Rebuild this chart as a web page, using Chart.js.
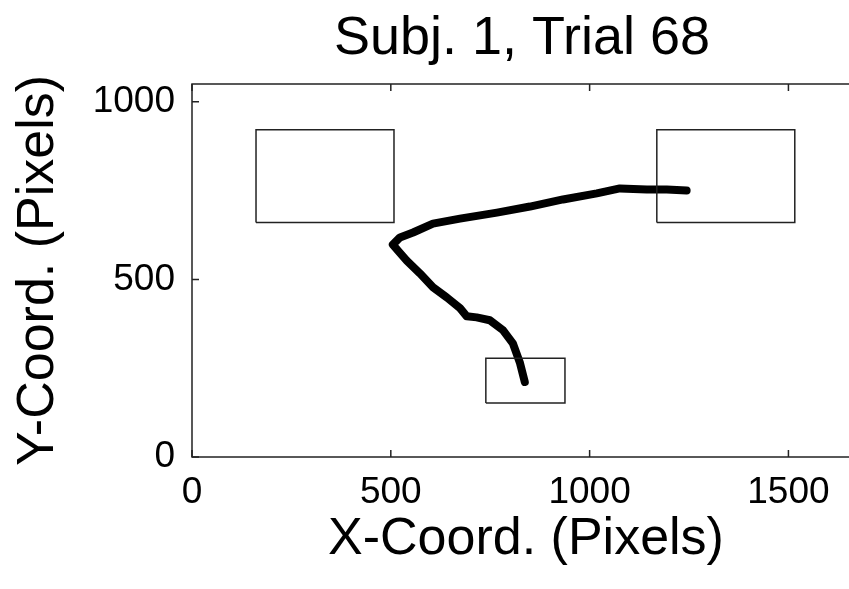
<!DOCTYPE html>
<html>
<head>
<meta charset="utf-8">
<title>Subj. 1, Trial 68</title>
<script src="https://cdn.jsdelivr.net/npm/chart.js@4/dist/chart.umd.min.js"></script>
<style>
    html, body { margin: 0; padding: 0; background: white; overflow: hidden; }
    canvas { display: block; }
</style>
</head>
<body>
<canvas id="myChart" width="870" height="589"></canvas>
<script>
// mouse trajectory (screen pixels), from start box to target
const trajX = [837, 825, 807, 782, 749, 716, 691, 674, 641, 606, 573, 540, 518, 505,
    523, 556, 606, 674, 767, 850, 933, 1018, 1076, 1144, 1194, 1244];
const trajY = [211, 264, 320, 357, 385, 393, 396, 419, 449, 478, 517, 553, 581, 598,
    618, 632, 657, 671, 688, 705, 725, 742, 756, 753, 753, 750];

// boxes on screen: [x0, x1], [y0, y1]
const leftBoxX = [161, 508];
const leftBoxY = [660, 921];
const rightBoxX = [1169, 1516];
const rightBoxY = [660, 921];
const startBoxX = [739, 938];
const startBoxY = [152, 278];

const screenW = 1680;
const screenH = 1050;
const xTicks = [0, 500, 1000, 1500];
const yTicks = [0, 500, 1000];

const titleText = 'Subj. 1, Trial 68';
const xLabel = 'X-Coord. (Pixels)';
const yLabel = 'Y-Coord. (Pixels)';

const fontName = "'Liberation Sans', Arial, Helvetica, sans-serif";

const boxPoints = function (xs, ys) {
    return [
        {x: xs[0], y: ys[0]},
        {x: xs[1], y: ys[0]},
        {x: xs[1], y: ys[1]},
        {x: xs[0], y: ys[1]},
        {x: xs[0], y: ys[0]}
    ];
};

const boxDataset = function (xs, ys) {
    return {
        data: boxPoints(xs, ys),
        showLine: true,
        borderColor: '#222',
        borderWidth: 1.5,
        pointRadius: 0,
        fill: false
    };
};

// matlab style frame: full box with ticks pointing inwards, title over the axes
const framePlugin = {
    id: 'frame',
    afterDraw(chart) {
        const ctx = chart.ctx;
        const a = chart.chartArea;
        const xs = chart.scales.x;
        const ys = chart.scales.y;
        const len = 7;

        ctx.save();
        ctx.strokeStyle = '#222';
        ctx.lineWidth = 1.5;
        ctx.strokeRect(a.left, a.top, a.right - a.left, a.bottom - a.top);

        ctx.beginPath();
        for (const t of xTicks) {
            const px = xs.getPixelForValue(t);
            ctx.moveTo(px, a.bottom);
            ctx.lineTo(px, a.bottom - len);
            ctx.moveTo(px, a.top);
            ctx.lineTo(px, a.top + len);
        }
        for (const t of yTicks) {
            const py = ys.getPixelForValue(t);
            ctx.moveTo(a.left, py);
            ctx.lineTo(a.left + len, py);
            ctx.moveTo(a.right, py);
            ctx.lineTo(a.right - len, py);
        }
        ctx.stroke();

        ctx.fillStyle = 'black';
        ctx.font = '54px ' + fontName;
        ctx.textAlign = 'center';
        ctx.textBaseline = 'middle';
        ctx.fillText(titleText, (a.left + a.right) / 2 - 4, 39);
        ctx.restore();
    }
};

const plainLabel = function (value) {
    return String(value);
};

const drawChart = function () {
    let ctx = document.getElementById('myChart').getContext('2d');

    let chart = new Chart(ctx, {
        type: 'scatter',
        data: {
            datasets: [
                boxDataset(leftBoxX, leftBoxY),
                boxDataset(rightBoxX, rightBoxY),
                boxDataset(startBoxX, startBoxY),
                {
                    data: trajX.map((x, i) => ({x: x, y: trajY[i]})),
                    showLine: true,
                    borderColor: 'black',
                    borderWidth: 8,
                    borderJoinStyle: 'round',
                    borderCapStyle: 'round',
                    pointRadius: 0,
                    fill: false
                }
            ]
        },
        options: {
            responsive: false,
            animation: false,
            devicePixelRatio: 1,
            layout: {
                padding: {top: 84, right: 10, bottom: 0, left: 0}
            },
            plugins: {
                legend: {display: false},
                tooltip: {enabled: false}
            },
            scales: {
                x: {
                    type: 'linear',
                    min: 0,
                    max: screenW,
                    grid: {display: false, drawTicks: false, tickLength: 0},
                    border: {display: false},
                    afterBuildTicks: function (scale) {
                        scale.ticks = xTicks.map(v => ({value: v}));
                    },
                    afterFit: function (scale) {
                        scale.height = 132;
                    },
                    ticks: {
                        color: 'black',
                        padding: 14,
                        maxRotation: 0,
                        autoSkip: false,
                        callback: plainLabel,
                        font: {family: fontName, size: 37}
                    },
                    title: {
                        display: true,
                        text: xLabel,
                        color: 'black',
                        padding: {top: 0, bottom: 23},
                        font: {family: fontName, size: 52, lineHeight: 1}
                    }
                },
                y: {
                    type: 'linear',
                    min: 0,
                    max: screenH,
                    grid: {display: false, drawTicks: false, tickLength: 0},
                    border: {display: false},
                    afterBuildTicks: function (scale) {
                        scale.ticks = yTicks.map(v => ({value: v}));
                    },
                    afterFit: function (scale) {
                        scale.width = 192;
                    },
                    ticks: {
                        color: 'black',
                        padding: 17,
                        autoSkip: false,
                        callback: plainLabel,
                        font: {family: fontName, size: 37}
                    },
                    title: {
                        display: true,
                        text: yLabel,
                        color: 'black',
                        padding: {top: 13, bottom: 0},
                        font: {family: fontName, size: 52, lineHeight: 1}
                    }
                }
            }
        },
        plugins: [framePlugin]
    });
};


document.addEventListener("DOMContentLoaded", function () {
    drawChart();
});
</script>
</body>
</html>
